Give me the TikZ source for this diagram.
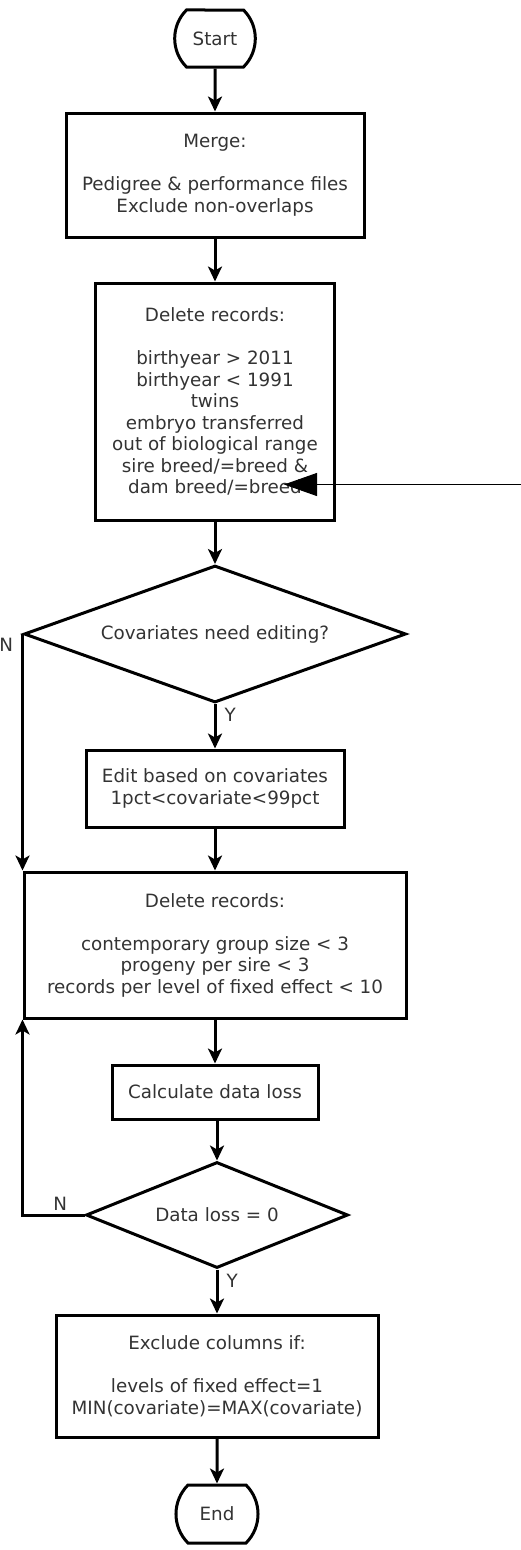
\documentclass[tikz,border=0pt]{standalone}
\usepackage{fontspec}
\setsansfont{DejaVu Sans}
\usetikzlibrary{arrows.meta,shapes.geometric,shapes.misc,positioning}
\newcommand{\chartfont}{\sffamily\fontsize{18.3}{21.5}\selectfont}

\begin{document}
\begin{tikzpicture}[x=1pt,y=-1pt,->,>={Stealth[length=15pt,width=14pt,inset=4pt]},line width=3pt,
  every node/.style={font=\chartfont,text=black!80},
  box/.style={rectangle,draw=black,align=center,inner sep=0pt},
  terminal/.style={rounded rectangle,rounded rectangle arc length=90,draw=black,inner sep=0pt},
  decision/.style={diamond,draw=black,inner sep=0pt},
  answer/.style={inner sep=0pt}]
  \useasboundingbox (0,0) rectangle (520,1550);

  \node[terminal,minimum width=80pt,minimum height=57pt] (start) at (215,38.5) {Start};
  \node[box,minimum width=298pt,minimum height=124pt] (merge) at (215,175) {Merge:\\[21.5pt]Pedigree \& performance files\\Exclude non-overlaps};
  \node[box,minimum width=239pt,minimum height=237pt] (del1) at (215,401.5) {Delete records:\\[21.5pt]birthyear > 2011\\birthyear < 1991\\twins\\embryo transferred\\out of biological range\\sire breed/=breed \&\\dam breed/=breed};
  \node[decision,aspect=2.79,minimum width=382pt,minimum height=137pt] (cov) at (215,634) {Covariates need editing?};
  \node[box,minimum width=258pt,minimum height=77pt] (edit) at (215,788.5) {Edit based on covariates\\1pct<covariate<99pct};
  \node[box,minimum width=382pt,minimum height=146pt] (del2) at (215,945) {Delete records:\\[21.5pt]contemporary group size < 3\\progeny per sire < 3\\records per level of fixed effect < 10};
  \node[box,minimum width=206pt,minimum height=54pt] (calc) at (215,1092) {Calculate data loss};
  \node[decision,aspect=2.47,minimum width=262pt,minimum height=106pt] (loss) at (217,1215) {Data loss = 0};
  \node[box,minimum width=322pt,minimum height=122pt] (excl) at (217,1376) {Exclude columns if:\\[21.5pt]levels of fixed effect=1\\MIN(covariate)=MAX(covariate)};
  \node[terminal,minimum width=70pt,minimum height=58pt] (end) at (217,1514) {End};

  % yes / no answers
  \node[answer,below left=3pt and 8pt of cov.west] (covno) {N};
  \node[answer,below right=3pt and 8pt of cov.south] (covyes) {Y};
  \node[answer,above left=3pt and 16pt of loss.west] (lossno) {N};
  \node[answer,below right=3pt and 8pt of loss.south] (lossyes) {Y};

  % pointer coming in from the right
  \coordinate (pointer) at ([xshift=-52pt,yshift=37pt]del1.south east);
  \coordinate[right=240pt of pointer] (edge);

  \draw (start) -- (merge);
  \draw (merge) -- (del1);
  \draw (del1) -- (cov);
  \draw (cov) -- (edit);
  \draw (cov.west) -- (del2.north west);
  \draw (edit) -- (del2);
  \draw (del2) -- (calc);
  \draw (calc.south -| loss.north) -- (loss);
  \draw (loss.west) -| (del2.south west);
  \draw (loss) -- (excl);
  \draw (excl) -- (end);
  \draw[line width=1pt,-{Triangle[length=33pt,width=23pt]}] (edge) -- (pointer);
\end{tikzpicture}
\end{document}
